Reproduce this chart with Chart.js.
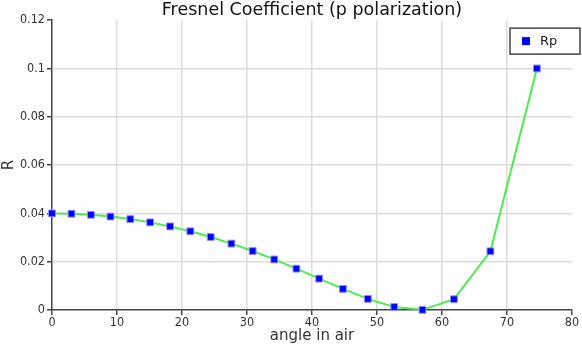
<!DOCTYPE html>
<html lang="en">
<head>
    <meta charset="UTF-8">
    <title>Fresnel Coefficient (p polarization)</title>
    <script src="https://cdn.jsdelivr.net/npm/chart.js"></script>
    <style>
        html, body {
            margin: 0;
            padding: 0;
            background: #fff;
        }
        #wrap {
            width: 582px;
            height: 346px;
        }
    </style>
</head>
<body>
    <div id="wrap"><canvas id="myChart"></canvas></div>

    <script>
        // angle of incidence in air (degrees) and p-polarized reflectance
        const angles = [0, 3.0, 6.0, 9.0, 12.05, 15.1, 18.17, 21.28, 24.42, 27.6, 30.87,
                        34.19, 37.6, 41.1, 44.76, 48.59, 52.65, 57.0, 61.84, 67.45, 74.6];
        const rp = [0.04, 0.03986, 0.03942, 0.03868, 0.03763, 0.03628, 0.0346, 0.03258,
                    0.03022, 0.02749, 0.0244, 0.02093, 0.01711, 0.013, 0.00873, 0.00461,
                    0.00125, 0.00006, 0.00446, 0.02431, 0.1];
        const xTicks = [0, 10, 20, 30, 40, 50, 60, 70, 80];
        const yTicks = [0, 0.02, 0.04, 0.06, 0.08, 0.1, 0.12];

        const tickFont = { family: "'DejaVu Sans Condensed', 'DejaVu Sans', sans-serif", size: 12.5 };

        // boxed legend in the top right corner of the plot
        const boxLegend = {
            id: 'boxLegend',
            afterDraw(chart) {
                const ctx = chart.ctx;
                const ds = chart.data.datasets[0];
                const x = chart.chartArea.right - 62;
                const y = chart.chartArea.top + 8;
                ctx.save();
                ctx.fillStyle = '#fff';
                ctx.fillRect(x, y, 70, 26);
                ctx.strokeStyle = '#444';
                ctx.lineWidth = 1.5;
                ctx.strokeRect(x, y, 70, 26);
                ctx.fillStyle = ds.pointBackgroundColor;
                ctx.fillRect(x + 12, y + 9, 8, 8);
                ctx.fillStyle = '#222';
                ctx.font = "13px 'DejaVu Sans', sans-serif";
                ctx.textBaseline = 'middle';
                ctx.fillText(ds.label, x + 30, y + 13);
                ctx.restore();
            }
        };

        new Chart(document.getElementById('myChart'), {
            type: 'line',
            data: {
                datasets: [{
                    label: 'Rp',
                    data: angles.map((a, i) => ({ x: a, y: rp[i] })),
                    borderColor: '#4ded4d',
                    borderWidth: 2,
                    tension: 0,
                    pointStyle: 'rect',
                    pointRadius: 4.8,
                    pointBackgroundColor: '#0000ff',
                    pointBorderColor: '#8c8cff',
                    pointBorderWidth: 1,
                    clip: false
                }]
            },
            plugins: [boxLegend],
            options: {
                responsive: true,
                maintainAspectRatio: false,
                animation: false,
                layout: { padding: { left: 0, right: 10, top: 0, bottom: 0 } },
                plugins: {
                    legend: { display: false },
                    tooltip: { enabled: false },
                    title: {
                        display: true,
                        text: 'Fresnel Coefficient (p polarization)',
                        fullSize: false,
                        color: '#111',
                        font: { family: "'DejaVu Sans', sans-serif", size: 17.5, weight: 'normal', lineHeight: 1.15 },
                        padding: { top: 0, bottom: 0 }
                    }
                },
                scales: {
                    x: {
                        type: 'linear',
                        min: 0,
                        max: 80,
                        afterFit(scale) { scale.height = 36; },
                        afterBuildTicks(scale) { scale.ticks = xTicks.map(v => ({ value: v })); },
                        ticks: { color: '#333', font: tickFont, padding: 0, maxRotation: 0 },
                        grid: {
                            color: c => (c.tick && (c.tick.value === 0 || c.tick.value === 80)) ? 'rgba(0,0,0,0)' : '#dcdcdc',
                            tickColor: '#444',
                            tickLength: 5,
                            lineWidth: 1.5
                        },
                        border: { color: '#444', width: 1.5 },
                        title: {
                            display: true,
                            text: 'angle in air',
                            color: '#333',
                            font: { family: "'DejaVu Sans', sans-serif", size: 15 },
                            padding: { top: 0, bottom: 1 }
                        }
                    },
                    y: {
                        min: 0,
                        max: 0.12,
                        afterFit(scale) { scale.width = 52; },
                        afterBuildTicks(scale) { scale.ticks = yTicks.map(v => ({ value: v })); },
                        ticks: {
                            color: '#333',
                            font: tickFont,
                            padding: 2,
                            callback: v => (v === 0 ? '0' : String(Math.round(v * 100) / 100))
                        },
                        grid: {
                            color: c => (c.tick && (c.tick.value === 0 || c.tick.value === 0.12)) ? 'rgba(0,0,0,0)' : '#dcdcdc',
                            tickColor: '#444',
                            tickLength: 5,
                            lineWidth: 1.5
                        },
                        border: { color: '#444', width: 1.5 },
                        title: {
                            display: true,
                            text: 'R',
                            color: '#333',
                            font: { family: "'DejaVu Sans', sans-serif", size: 15 },
                            padding: 0
                        }
                    }
                }
            }
        });
    </script>
</body>
</html>
